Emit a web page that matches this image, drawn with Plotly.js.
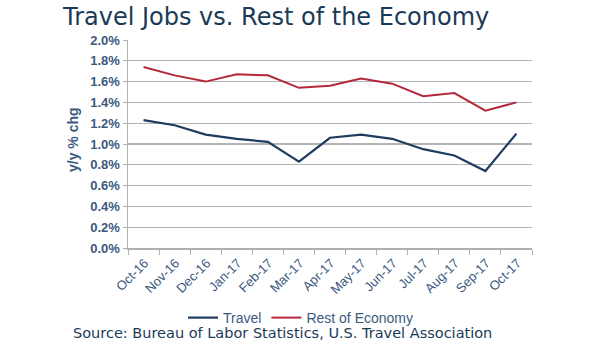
<!DOCTYPE html>
<html>
<head>
<meta charset="utf-8">
<script src="https://cdn.plot.ly/plotly-3.0.1.min.js"></script>
<style>html,body{margin:0;padding:0;background:#fff;}#chart{width:610px;height:347px;}</style>
</head>
<body>
<div id="chart"></div>
<script>
const months = ["Oct-16","Nov-16","Dec-16","Jan-17","Feb-17","Mar-17","Apr-17","May-17","Jun-17","Jul-17","Aug-17","Sep-17","Oct-17"];
const travel = [1.23, 1.18, 1.09, 1.05, 1.02, 0.83, 1.06, 1.09, 1.05, 0.95, 0.89, 0.74, 1.10];
const restOfEconomy = [1.74, 1.66, 1.60, 1.67, 1.66, 1.54, 1.56, 1.63, 1.58, 1.46, 1.49, 1.32, 1.40];
const yTicks = [0,0.2,0.4,0.6,0.8,1.0,1.2,1.4,1.6,1.8,2.0];
const yTickText = yTicks.map(v => v.toFixed(1) + "%");

const textColor = "#3b5a7f";
const traces = [
  {x: months, y: travel, name: "Travel", type: "scatter", mode: "lines",
   line: {color: "#1d3c5e", width: 2.2}},
  {x: months, y: restOfEconomy, name: "Rest of Economy", type: "scatter", mode: "lines",
   line: {color: "#b3283a", width: 2}}
];
const layout = {
  width: 610, height: 347,
  margin: {l: 128, r: 78, t: 40, b: 99},
  paper_bgcolor: "#fff", plot_bgcolor: "#fff",
  title: {text: "Travel Jobs vs. Rest of the Economy", font: {family: "DejaVu Sans", size: 24, color: "#1b3a57"},
          xref: "container", x: 63/610, xanchor: "left", yref: "container", y: 1 - 17/347, yanchor: "middle"},
  xaxis: {type: "category", range: [-0.5, 12.5], tickson: "boundaries", ticks: "outside", ticklen: 5, tickcolor: "#b0b0b0",
          showline: true, linecolor: "#b0b0b0", linewidth: 1.5, showgrid: false,
          tickangle: -45, ticklabelshift: 1, ticklabelstandoff: 1,
          tickfont: {family: "Liberation Sans", size: 13, color: textColor}},
  yaxis: {range: [0, 2.0], tickvals: yTicks, ticktext: yTickText, ticks: "outside", ticklen: 4, tickcolor: "#b0b0b0",
          showline: true, linecolor: "#b0b0b0", linewidth: 1.5, gridcolor: "#b4b4b4", gridwidth: 1.3,
          zeroline: false, tickfont: {family: "Liberation Sans", size: 13, color: textColor, weight: "bold"}},
  showlegend: true,
  legend: {orientation: "h", x: (183-128)/404, xanchor: "left", y: (248-318)/208, yanchor: "middle",
           font: {family: "Liberation Sans", size: 14, color: textColor}, itemwidth: 30, tracegroupgap: 0},
  annotations: [
    {text: "y/y % chg", textangle: -90, xref: "paper", yref: "paper", x: (73-128)/404, y: (248-140)/208,
     xanchor: "center", yanchor: "middle", showarrow: false,
     font: {family: "Liberation Sans", size: 14, color: textColor, weight: "bold"}},
    {text: "Source: Bureau of Labor Statistics, U.S. Travel Association", xref: "paper", yref: "paper",
     x: (71-128)/404, y: (248-333)/208, xanchor: "left", yanchor: "middle", showarrow: false,
     font: {family: "DejaVu Sans", size: 14.5, color: "#1b3a57"}}
  ]
};
Plotly.newPlot("chart", traces, layout, {displayModeBar: false, staticPlot: true});
</script>
</body>
</html>
